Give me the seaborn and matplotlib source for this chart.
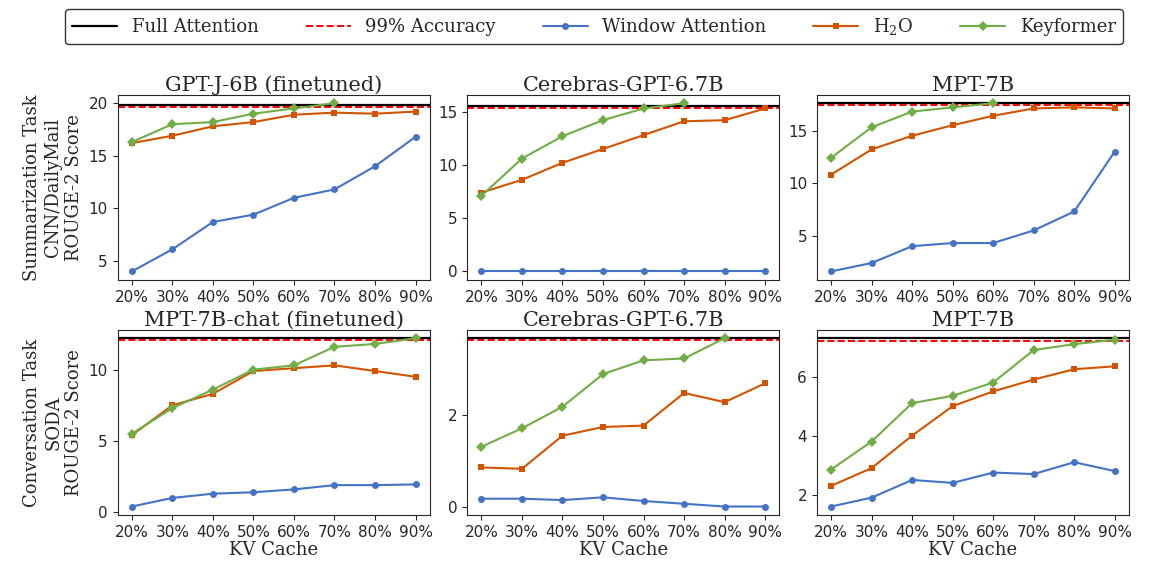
import matplotlib
matplotlib.use("Agg")
import matplotlib.pyplot as plt
import seaborn as sns
import pandas as pd
import numpy as np

sns.set_style("ticks")
plt.rcParams['font.family'] = ['DejaVu Serif']
plt.rcParams['mathtext.fontset'] = 'dejavuserif'

kv = ["20%", "30%", "40%", "50%", "60%", "70%", "80%", "90%"]
titles = ["GPT-J-6B (finetuned)", "Cerebras-GPT-6.7B", "MPT-7B",
          "MPT-7B-chat (finetuned)", "Cerebras-GPT-6.7B", "MPT-7B"]
full = [19.8, 15.5, 17.6, 12.2, 3.66, 7.3]
acc99 = [19.6, 15.35, 17.4, 12.08, 3.62, 7.22]
window = [
    [4.0, 6.1, 8.7, 9.4, 11.0, 11.8, 14.0, 16.8],
    [0, 0, 0, 0, 0, 0, 0, 0],
    [1.6, 2.4, 4.0, 4.3, 4.3, 5.5, 7.3, 13.0],
    [0.4, 1.0, 1.3, 1.4, 1.6, 1.9, 1.9, 1.95],
    [0.17, 0.17, 0.14, 0.2, 0.12, 0.06, 0.0, 0.0],
    [1.6, 1.9, 2.5, 2.4, 2.75, 2.7, 3.1, 2.8],
]
h2o = [
    [16.2, 16.9, 17.8, 18.2, 18.9, 19.1, 19.0, 19.2],
    [7.4, 8.6, 10.2, 11.5, 12.8, 14.1, 14.2, 15.3],
    [10.8, 13.2, 14.5, 15.5, 16.4, 17.1, 17.2, 17.1],
    [5.4, 7.5, 8.3, 9.9, 10.1, 10.3, 9.9, 9.5],
    [0.85, 0.82, 1.54, 1.73, 1.76, 2.47, 2.27, 2.68],
    [2.3, 2.9, 4.0, 5.0, 5.5, 5.9, 6.25, 6.35],
]
keyformer = [
    [16.3, 18.0, 18.2, 19.0, 19.5, 20.0],
    [7.1, 10.6, 12.7, 14.2, 15.3, 15.8],
    [12.4, 15.3, 16.8, 17.2, 17.6],
    [5.5, 7.3, 8.6, 10.0, 10.3, 11.6, 11.8, 12.2],
    [1.3, 1.7, 2.17, 2.88, 3.18, 3.22, 3.66],
    [2.85, 3.8, 5.1, 5.35, 5.8, 6.9, 7.1, 7.25],
]
yticks = [[5, 10, 15, 20], [0, 5, 10, 15], [5, 10, 15],
          [0, 5, 10], [0, 2], [2, 4, 6]]
ylabels = ["Summarization Task\nCNN/DailyMail\nROUGE-2 Score",
           "Conversation Task\nSODA\nROUGE-2 Score"]

c_win, c_h2o, c_key = "#4472C4", "#D35400", "#70AD47"

fig, axes = plt.subplots(2, 3, figsize=(11.76, 5.64), dpi=100)
for i, ax in enumerate(axes.flat):
    x = np.arange(len(kv))
    ax.axhline(full[i], color="black", lw=1.6, label="Full Attention")
    ax.axhline(acc99[i], color="red", ls="--", lw=1.4, label="99% Accuracy")
    sns.lineplot(x=x, y=window[i], ax=ax, color=c_win, marker="o", markersize=5,
                 markeredgewidth=0, label="Window Attention", legend=False)
    sns.lineplot(x=x, y=h2o[i], ax=ax, color=c_h2o, marker="s", markersize=5,
                 markeredgewidth=0, label="H$_2$O", legend=False)
    sns.lineplot(x=x[:len(keyformer[i])], y=keyformer[i], ax=ax, color=c_key,
                 marker="D", markersize=5, markeredgewidth=0, label="Keyformer", legend=False)
    ax.set_xticks(x)
    ax.set_xticklabels(kv, fontsize=11, family="DejaVu Sans")
    ax.set_yticks(yticks[i])
    ax.set_yticklabels([str(t) for t in yticks[i]], fontsize=11, family="DejaVu Sans")
    ax.set_xlim(-0.35, 7.35)
    ax.set_title(titles[i], fontsize=15, pad=2)
    if i >= 3:
        ax.set_xlabel("KV Cache", fontsize=13, labelpad=1)
    if i % 3 == 0:
        ax.set_ylabel(ylabels[i // 3], fontsize=13)

handles, labels = axes[0, 0].get_legend_handles_labels()
fig.legend(handles, labels, loc="upper center", ncol=5, fontsize=13,
           bbox_to_anchor=(0.505, 1.0), frameon=True, edgecolor="black",
           handlelength=2.5, columnspacing=2.6, fancybox=True)
fig.subplots_adjust(left=0.1, right=0.96, top=0.832, bottom=0.087, wspace=0.12, hspace=0.27)
fig.savefig("out.png")
